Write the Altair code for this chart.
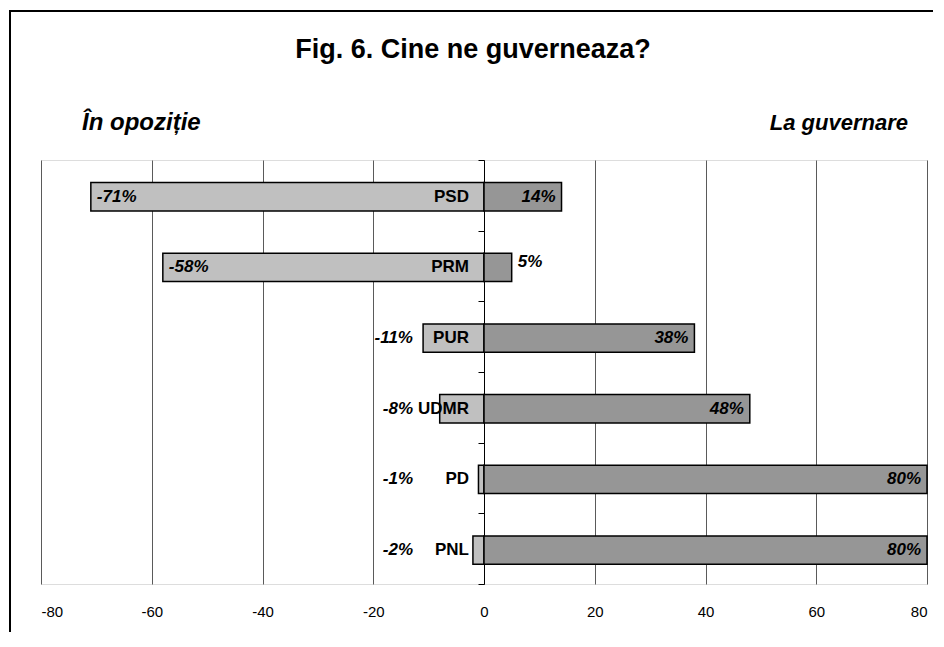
import altair as alt
import pandas as pd

parties = ["PSD", "PRM", "PUR", "UDMR", "PD", "PNL"]
opozitie = [-71, -58, -11, -8, -1, -2]
guvernare = [14, 5, 38, 48, 80, 80]
x_ticks = [-80, -60, -40, -20, 0, 20, 40, 60, 80]
title_text = "Fig. 6. Cine ne guverneaza?"
left_label = "În opoziție"
right_label = "La guvernare"

W, H = 886, 424
FONT = "Liberation Sans"

rows = []
for i, p in enumerate(parties):
    rows.append({"party": p, "idx": i, "side": "op", "value": opozitie[i]})
    rows.append({"party": p, "idx": i, "side": "gov", "value": guvernare[i]})
df = pd.DataFrame(rows)

base = alt.Chart(df).transform_calculate(
    y0="datum.idx + 0.32", y1="datum.idx + 0.72", yc="datum.idx + 0.52",
    label="datum.value + '%'", zero="0"
)

xscale = alt.Scale(domain=[-80, 80], nice=False, zero=False)
yscale = alt.Scale(domain=[0, 6], reverse=True, nice=False, zero=False)

xaxis = alt.Axis(values=x_ticks, grid=True, gridColor="#5a5a5a", gridWidth=1,
                 ticks=False, domain=False, labelFont=FONT, labelFontSize=15,
                 labelColor="black", labelPadding=20, title=None,
                 labelExpr="datum.value + ''")

# y axis drawn at the zero line, with ticks at band boundaries
axis_layer = alt.Chart(df).mark_point(opacity=0).encode(
    x=alt.X("value:Q", scale=xscale, axis=xaxis),
    y=alt.Y("idx:Q", scale=yscale,
            axis=alt.Axis(values=list(range(7)), labels=False, grid=False,
                          domain=True, domainColor="black", domainWidth=1,
                          ticks=True, tickColor="black", tickSize=6,
                          offset=-W / 2, title=None, orient="left")),
)

bars_op = base.transform_filter("datum.side == 'op'").mark_bar(
    fill="#c0c0c0", stroke="black", strokeWidth=1.5
).encode(x=alt.X("value:Q", scale=xscale), x2="zero:Q",
         y=alt.Y("y0:Q", scale=yscale), y2="y1:Q")

bars_gov = base.transform_filter("datum.side == 'gov'").mark_bar(
    fill="#969696", stroke="black", strokeWidth=1.5
).encode(x=alt.X("zero:Q", scale=xscale), x2="value:Q",
         y=alt.Y("y0:Q", scale=yscale), y2="y1:Q")

txt = dict(font=FONT, fontSize=17, fontWeight="bold", color="black", baseline="middle")

party_lbl = base.transform_filter("datum.side == 'op'").mark_text(
    align="right", dx=-15, **txt
).encode(x=alt.X("zero:Q", scale=xscale), y=alt.Y("yc:Q", scale=yscale), text="party:N")

op_long = base.transform_filter("datum.side == 'op' && datum.value < -20").mark_text(
    align="left", dx=6, fontStyle="italic", **txt
).encode(x=alt.X("value:Q", scale=xscale), y=alt.Y("yc:Q", scale=yscale), text="label:N")

op_short = base.transform_filter("datum.side == 'op' && datum.value >= -20").mark_text(
    align="right", dx=-71, fontStyle="italic", **txt
).encode(x=alt.X("zero:Q", scale=xscale), y=alt.Y("yc:Q", scale=yscale), text="label:N")

gov_long = base.transform_filter("datum.side == 'gov' && datum.value >= 10").mark_text(
    align="right", dx=-6, fontStyle="italic", **txt
).encode(x=alt.X("value:Q", scale=xscale), y=alt.Y("yc:Q", scale=yscale), text="label:N")

gov_short = base.transform_filter("datum.side == 'gov' && datum.value < 10").mark_text(
    align="left", dx=6, dy=-5, fontStyle="italic", **txt
).encode(x=alt.X("value:Q", scale=xscale), y=alt.Y("yc:Q", scale=yscale), text="label:N")

deco = alt.Chart(pd.DataFrame({"t": [title_text]}))
title = deco.mark_text(font=FONT, fontSize=27, fontWeight="bold", align="center",
                       baseline="alphabetic", color="black").encode(
    x=alt.value(432), y=alt.value(-102), text=alt.value(title_text))
lleft = deco.mark_text(font=FONT, fontSize=24, fontWeight="bold", fontStyle="italic",
                       align="left", baseline="alphabetic", color="black").encode(
    x=alt.value(41), y=alt.value(-30), text=alt.value(left_label))
lright = deco.mark_text(font=FONT, fontSize=22, fontWeight="bold", fontStyle="italic",
                        align="right", baseline="alphabetic", color="black").encode(
    x=alt.value(867), y=alt.value(-30), text=alt.value(right_label))

frame_left = deco.mark_rule(color="black", strokeWidth=2).encode(
    x=alt.value(-31), y=alt.value(-150), y2=alt.value(H + 48))
frame_top = deco.mark_rule(color="black", strokeWidth=2).encode(
    x=alt.value(-32), x2=alt.value(892), y=alt.value(-149))

chart = alt.layer(
    axis_layer, bars_op, bars_gov, party_lbl, op_long, op_short, gov_long, gov_short,
    title, lleft, lright, frame_left, frame_top
).properties(
    width=W, height=H, padding={"left": 0, "top": 1, "right": 0, "bottom": 0}
).configure_view(stroke=None).configure(background="white")

chart.save("out.html", embed_options={"renderer": "svg", "actions": False})
